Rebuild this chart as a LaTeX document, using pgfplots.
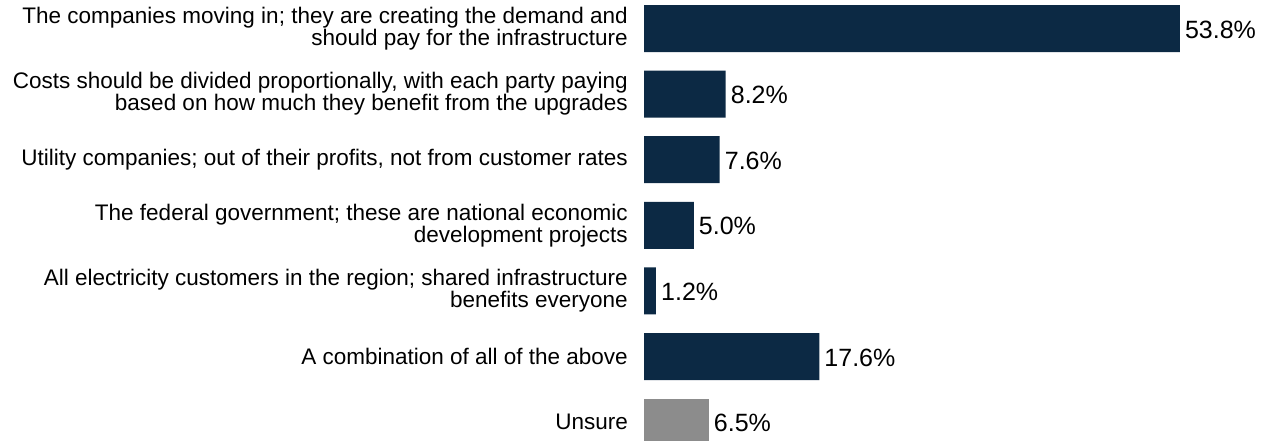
\documentclass[border=0pt]{standalone}
\usepackage{fontspec}
\setmainfont{Liberation Sans}
\usepackage{pgfplots}
\pgfplotsset{compat=1.18}
\definecolor{navy}{RGB}{12,41,68}
\definecolor{unsure}{RGB}{140,140,140}
\begin{document}
\begin{tikzpicture}
\useasboundingbox (0,0) rectangle (1266bp,441bp);
\begin{axis}[
 at={(644bp,-13.9bp)}, anchor=south west,
 scale only axis, width=597.6bp, height=459.2bp,
 xmin=0, xmax=60, ymin=-0.5, ymax=6.5, y dir=reverse,
 xbar, bar width=47bp, bar shift=0pt,
 axis line style={draw=none}, major tick length=0pt,
 xtick=\empty, ytick={0,1,2,3,4,5,6},
 yticklabels={
  {The companies moving in; they are creating the demand and\\should pay for the infrastructure},
  {Costs should be divided proportionally, with each party paying\\based on how much they benefit from the upgrades},
  {Utility companies; out of their profits, not from customer rates},
  {The federal government; these are national economic\\development projects},
  {All electricity customers in the region; shared infrastructure\\benefits everyone},
  {A combination of all of the above},
  {Unsure}},
 yticklabel style={align=right, font=\fontsize{22.5bp}{19.5bp}\selectfont, inner sep=0pt, xshift=-16bp},
 point meta=explicit symbolic,
 nodes near coords,
 every node near coord/.append style={font=\fontsize{25bp}{30bp}\selectfont, anchor=west, inner sep=0pt, xshift=5bp, yshift=-1bp, text=black},
 clip=false,
]
\addplot[fill=navy, draw=none] coordinates {
 (53.8,0) [53.8\%]
 (8.2,1) [8.2\%]
 (7.6,2) [7.6\%]
 (5.0,3) [5.0\%]
 (1.2,4) [1.2\%]
 (17.6,5) [17.6\%]
};
\addplot[fill=unsure, draw=none] coordinates {
 (6.5,6) [6.5\%]
};
\end{axis}
\end{tikzpicture}
\end{document}
